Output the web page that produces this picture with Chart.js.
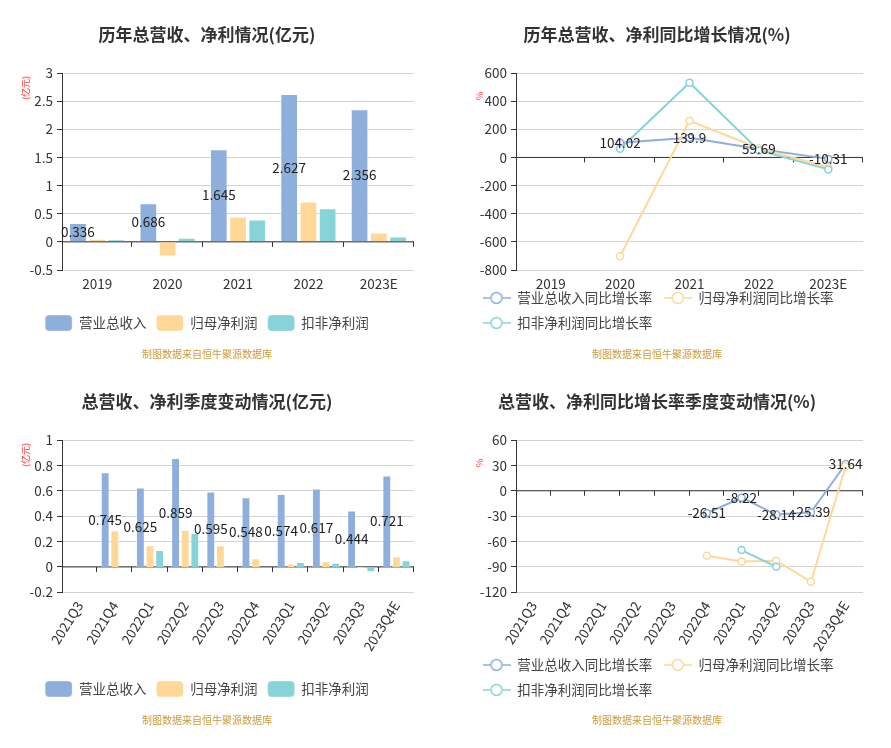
<!DOCTYPE html>
<html>
<head>
<meta charset="utf-8">
<script src="https://cdn.jsdelivr.net/npm/chart.js@4.4.1/dist/chart.umd.min.js"></script>
<style>
  body { margin: 0; background: #fff; }
  .panel { position: absolute; }
</style>
</head>
<body>
<canvas class="panel" id="yearAmount" width="445" height="367" style="left:0;top:0"></canvas>
<canvas class="panel" id="yearGrowth" width="446" height="367" style="left:445px;top:0"></canvas>
<canvas class="panel" id="quarterAmount" width="445" height="367" style="left:0;top:367px"></canvas>
<canvas class="panel" id="quarterGrowth" width="446" height="367" style="left:445px;top:367px"></canvas>
<script>
// 数据
const years = ['2019', '2020', '2021', '2022', '2023E'];
const yearRevenue = [0.336, 0.686, 1.645, 2.627, 2.356];
const yearNetProfit = [0.053, -0.26, 0.45, 0.716, 0.166];
const yearDeducted = [0.047, 0.072, 0.397, 0.599, 0.095];
const yearRevenueGrowth = [null, 104.02, 139.9, 59.69, -10.31];
const yearNetGrowth = [null, -702, 261, 65, -70];
const yearDeductedGrowth = [null, 62, 531, 50, -85];

const quarters = ['2021Q3', '2021Q4', '2022Q1', '2022Q2', '2022Q3', '2022Q4', '2023Q1', '2023Q2', '2023Q3', '2023Q4E'];
const qRevenue = [null, 0.745, 0.625, 0.859, 0.595, 0.548, 0.574, 0.617, 0.444, 0.721];
const qNetProfit = [null, 0.289, 0.171, 0.29, 0.171, 0.068, 0.026, 0.047, -0.016, 0.084];
const qDeducted = [null, null, 0.134, 0.268, null, null, 0.039, 0.032, -0.042, 0.053];
const qRevenueGrowth = [null, null, null, null, null, -26.51, -8.22, -28.14, -25.39, 31.64];
const qNetGrowth = [null, null, null, null, null, -76.8, -83.5, -82.7, -107.6, 28.7];
const qDeductedGrowth = [null, null, null, null, null, null, -70.1, -89.8, null, null];

const amountNames = ['营业总收入', '归母净利润', '扣非净利润'];
const growthNames = ['营业总收入同比增长率', '归母净利润同比增长率', '扣非净利润同比增长率'];

// 坐标轴范围 [min, max, step]
const yearAmountAxis = [-0.5, 3, 0.5];
const yearGrowthAxis = [-800, 600, 200];
const qAmountAxis = [-0.2, 1, 0.2];
const qGrowthAxis = [-120, 60, 30];

const SOURCE = '制图数据来自恒牛聚源数据库';
const COLORS = ['#8eaedc', '#ffd898', '#87d4d8'];
const FONT = "'Noto Sans CJK SC', 'Noto Sans', sans-serif";

Chart.defaults.font.family = FONT;
Chart.defaults.color = '#333';

// 零轴 + 分类刻度
const zeroAxis = {
  id: 'zeroAxis',
  beforeDatasetsDraw(chart) {
    const {ctx, scales: {x, y}} = chart;
    const y0 = y.getPixelForValue(0);
    const n = chart.data.labels.length;
    ctx.save();
    ctx.strokeStyle = '#333';
    ctx.lineWidth = 1;
    ctx.beginPath();
    ctx.moveTo(x.left, y0);
    ctx.lineTo(x.right, y0);
    for (let i = 1; i <= n; i++) {
      const bx = Math.round(x.left + i * x.width / n) - 0.5;
      ctx.moveTo(bx, y0);
      ctx.lineTo(bx, y0 + 5);
    }
    ctx.stroke();
    ctx.restore();
  }
};

// 第一组数据的数值标签
const valueLabels = {
  id: 'valueLabels',
  afterDatasetsDraw(chart) {
    const {ctx} = chart;
    const meta = chart.getDatasetMeta(0);
    const data = chart.data.datasets[0].data;
    ctx.save();
    ctx.font = '13.5px ' + FONT;
    ctx.fillStyle = '#222';
    ctx.textAlign = 'center';
    ctx.textBaseline = 'middle';
    meta.data.forEach((el, i) => {
      if (data[i] == null) return;
      const yy = meta.type === 'bar' ? (el.y + el.base) / 2 : el.y;
      ctx.fillText(String(data[i]), el.x, yy);
    });
    ctx.restore();
  }
};

// 单位
const unitLabel = {
  id: 'unitLabel',
  afterDraw(chart, args, opts) {
    const {ctx, chartArea} = chart;
    ctx.save();
    ctx.translate(chartArea.left - 36, chartArea.top + 27);
    ctx.rotate(-Math.PI / 2);
    ctx.font = '9px ' + FONT;
    ctx.fillStyle = '#f33';
    ctx.textAlign = 'left';
    ctx.textBaseline = 'middle';
    ctx.fillText(opts.text, 0, 0);
    ctx.restore();
  }
};

// 图例左移, x轴标签区域放大(防止被裁剪)
const layoutTweak = {
  id: 'layoutTweak',
  afterLayout(chart, args, opts) {
    if (opts.legendLeft != null) chart.legend.left = opts.legendLeft;
    chart.scales.x.bottom = chart.scales.x.top + 90;
  }
};

function lineIcon(color) {
  const c = document.createElement('canvas');
  c.width = 28; c.height = 14;
  const g = c.getContext('2d');
  g.strokeStyle = color;
  g.lineWidth = 1.5;
  g.beginPath(); g.moveTo(0, 7); g.lineTo(28, 7); g.stroke();
  g.beginPath(); g.arc(14, 7, 5.5, 0, Math.PI * 2);
  g.fillStyle = '#fff'; g.fill(); g.stroke();
  return c;
}
const icons = COLORS.map(lineIcon);

function yAxis(range, width) {
  return {
    min: range[0], max: range[1],
    ticks: {stepSize: range[2], color: '#333', font: {size: 13.5}, padding: 4,
      callback: v => String(+v.toFixed(2))},
    grid: {color: '#d3d3d3', tickColor: '#333', tickLength: 5},
    border: {color: '#333'},
    afterFit: s => { s.width = width; }
  };
}

function xAxis(height, rotation, pad) {
  return {
    offset: true,
    grid: {display: false, drawTicks: false},
    border: {display: false},
    ticks: {color: '#333', font: {size: 13.5}, padding: pad, autoSkip: false,
      minRotation: rotation, maxRotation: rotation},
    afterFit: s => { s.height = height; }
  };
}

function titleOpts(text) {
  return {display: true, text, color: '#333', font: {size: 17, weight: 'bold'},
    padding: {top: 24.8, bottom: 27.8}};
}

function sourceOpts(top, bottom) {
  return {display: true, position: 'bottom', text: SOURCE, color: '#c99a3c',
    font: {size: 10}, padding: {top, bottom}};
}

function barChart(id, title, labels, series, range, unit, xHeight, rotation, xPad, srcTop, srcBottom) {
  return new Chart(document.getElementById(id), {
    type: 'bar',
    data: {
      labels,
      datasets: series.map((d, i) => ({
        label: amountNames[i], data: d,
        backgroundColor: COLORS[i], borderColor: 'rgba(255,255,255,0.35)', borderWidth: 1,
        categoryPercentage: 0.82, barPercentage: 0.92
      }))
    },
    options: {
      responsive: false, animation: false,
      layout: {padding: {left: 0, right: 31, top: 0, bottom: 0}},
      scales: {x: xAxis(xHeight, rotation, xPad), y: yAxis(range, 62)},
      plugins: {
        title: titleOpts(title),
        subtitle: sourceOpts(srcTop, srcBottom),
        legend: {position: 'bottom', labels: {boxWidth: 27, boxHeight: 16, useBorderRadius: true,
          borderRadius: 4, color: '#444', font: {size: 13.5}, padding: 10}},
        tooltip: {enabled: false},
        unitLabel: {text: unit},
        layoutTweak: {}
      }
    },
    plugins: [zeroAxis, valueLabels, unitLabel, layoutTweak]
  });
}

function lineChart(id, title, labels, series, range, xHeight, rotation, xPad, srcTop, srcBottom) {
  return new Chart(document.getElementById(id), {
    type: 'line',
    data: {
      labels,
      datasets: series.map((d, i) => ({
        label: growthNames[i], data: d, order: 2 - i,
        borderColor: COLORS[i], backgroundColor: '#fff', borderWidth: 2,
        pointRadius: 3.5, pointBorderWidth: 1.5, pointBackgroundColor: '#fff',
        pointBorderColor: COLORS[i], tension: 0
      }))
    },
    options: {
      responsive: false, animation: false,
      layout: {padding: {left: 6, right: 28, top: 0, bottom: 0}},
      scales: {x: xAxis(xHeight, rotation, xPad), y: yAxis(range, 65)},
      plugins: {
        title: titleOpts(title),
        subtitle: sourceOpts(srcTop, srcBottom),
        legend: {position: 'bottom', align: 'start', labels: {usePointStyle: true, pointStyleWidth: 28,
          color: '#444', font: {size: 13.5}, padding: 11.5,
          sort: (a, b) => a.datasetIndex - b.datasetIndex,
          generateLabels(chart) {
            const items = Chart.defaults.plugins.legend.labels.generateLabels(chart);
            items.forEach(it => { it.pointStyle = icons[it.datasetIndex]; });
            return items;
          }}},
        tooltip: {enabled: false},
        unitLabel: {text: '%'},
        layoutTweak: {legendLeft: 26}
      }
    },
    plugins: [zeroAxis, valueLabels, unitLabel, layoutTweak]
  });
}

barChart('yearAmount', '历年总营收、净利情况(亿元)', years,
  [yearRevenue, yearNetProfit, yearDeducted], yearAmountAxis, '(亿元)', 35, 0, 6, 7, 7);
lineChart('yearGrowth', '历年总营收、净利同比增长情况(%)', years,
  [yearRevenueGrowth, yearNetGrowth, yearDeductedGrowth], yearGrowthAxis, 9.75, 0, 6, 8.25, 7);
barChart('quarterAmount', '总营收、净利季度变动情况(亿元)', quarters,
  [qRevenue, qNetProfit, qDeducted], qAmountAxis, '(亿元)', 78.7, 58, 6, 7, 8);
lineChart('quarterGrowth', '总营收、净利同比增长率季度变动情况(%)', quarters,
  [qRevenueGrowth, qNetGrowth, qDeductedGrowth], qGrowthAxis, 54.45, 58, 6, 7.25, 8);
</script>
</body>
</html>
